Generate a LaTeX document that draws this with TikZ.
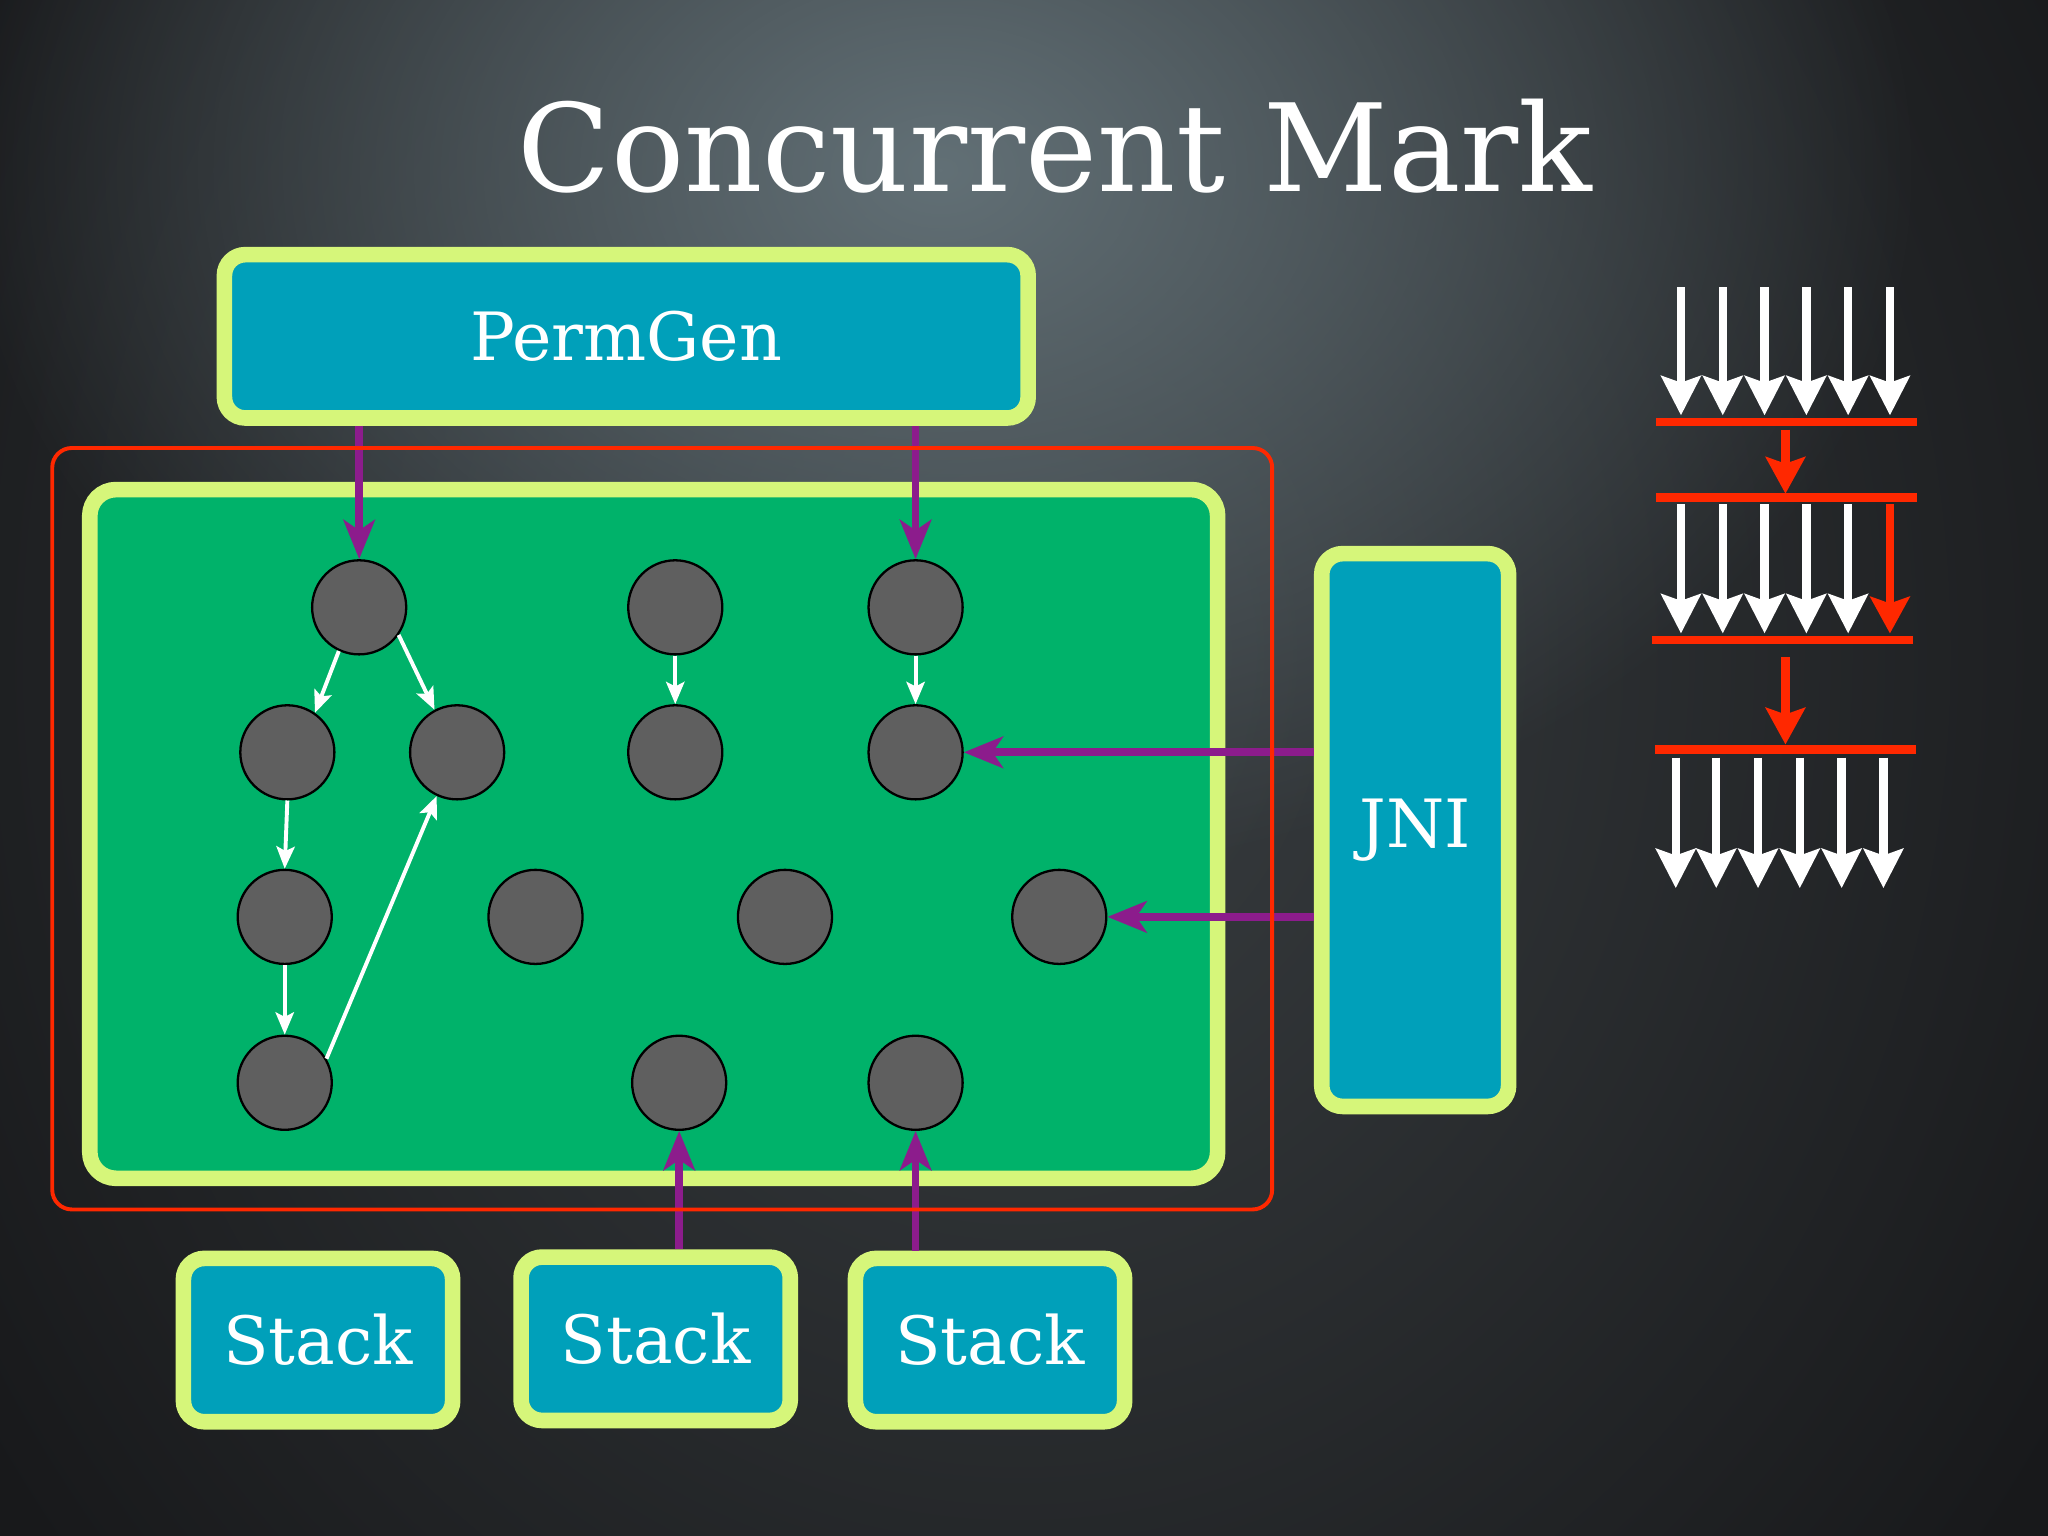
\documentclass[tikz,border=0pt]{standalone}
\usepackage{fontspec}
\setmainfont{DejaVu Serif}
\usetikzlibrary{arrows.meta}
\usetikzlibrary{fadings}
\definecolor{bgdark}{RGB}{24,25,27}
\definecolor{bgmid}{RGB}{58,63,66}
\definecolor{bglight}{RGB}{98,112,118}
\definecolor{limerim}{RGB}{214,246,122}
\definecolor{slotteal}{RGB}{0,160,186}
\definecolor{heapgreen}{RGB}{0,178,106}
\definecolor{objgray}{RGB}{95,95,95}
\definecolor{rootpurple}{RGB}{140,28,140}
\definecolor{markred}{RGB}{255,40,0}
\tikzfading[name=glow, inner color=transparent!0, outer color=transparent!100]

\begin{document}
\begin{tikzpicture}[x=0.01cm, y=-0.01cm,
    slot/.style={draw=limerim, line width=3.4pt, fill=slotteal, rounded corners=0.16cm, text=white, font=\fontsize{14.5}{17}\selectfont, inner sep=0pt},
    obj/.style={circle, draw=black, line width=0.5pt, fill=objgray, minimum size=0.72cm, inner sep=0pt},
    link/.style={white, line width=0.85pt, -{Stealth[length=0.17cm, width=0.14cm, inset=0.035cm]}},
    rootlink/.style={rootpurple, line width=1.7pt, -{Stealth[length=0.3cm, width=0.24cm, inset=0.08cm]}},
    whitedrop/.style={white, line width=1.85pt, -{Stealth[length=0.3cm, width=0.3cm, inset=0.05cm]}},
    reddrop/.style={markred, line width=1.85pt, -{Stealth[length=0.28cm, width=0.3cm, inset=0.05cm]}},
    redbar/.style={markred, line width=1.85pt}]

    \useasboundingbox (0,0) rectangle (1568,1176);
    \begin{scope}
        \clip (0,0) rectangle (1568,1176);
        \fill[bgdark] (0,0) rectangle (1568,1176);
        \shade[inner color=bgmid, outer color=bgdark] (780,500) ellipse [x radius=9.5cm, y radius=11cm];
        \fill[bglight, path fading=glow] (720,130) ellipse [x radius=7.5cm, y radius=5.5cm];
    \end{scope}

    \node[text=white, font=\fontsize{26.5}{30}\selectfont, anchor=base] (title) at (808,147) {Concurrent Mark};

    % heap
    \node[draw=limerim, line width=3.4pt, fill=heapgreen, rounded corners=0.2cm, minimum width=8.63cm, minimum height=5.27cm] (heap) at (500.5,638.5) {};

    \node[obj] (a) at (275,465) {};
    \node[obj] (b) at (517,465) {};
    \node[obj] (c) at (701,465) {};
    \node[obj] (d) at (220,576) {};
    \node[obj] (e) at (350,576) {};
    \node[obj] (f) at (517,576) {};
    \node[obj] (g) at (701,576) {};
    \node[obj] (h) at (218,702) {};
    \node[obj] (i) at (410,702) {};
    \node[obj] (j) at (601,702) {};
    \node[obj] (k) at (811,702) {};
    \node[obj] (l) at (218,829) {};
    \node[obj] (m) at (520,829) {};
    \node[obj] (n) at (701,829) {};

    % roots
    \node[slot, minimum width=6.15cm, minimum height=1.25cm] (permgen) at (479.5,257.5) {PermGen};
    \node[slot, minimum width=1.43cm, minimum height=4.23cm] (jni) at (1083.5,635.5) {JNI};
    \node[slot, minimum width=2.06cm, minimum height=1.25cm] (stack1) at (243.5,1026) {Stack};
    \node[slot, minimum width=2.06cm, minimum height=1.25cm] (stack2) at (502,1025) {Stack};
    \node[slot, minimum width=2.06cm, minimum height=1.25cm] (stack3) at (758,1026) {Stack};

    \draw[link] (a.-115) -- (d.55);
    \draw[link] (a.-35) -- (e.118);
    \draw[link] (b.south) -- (f.north);
    \draw[link] (c.south) -- (g.north);
    \draw[link] (d.south) -- (h.north);
    \draw[link] (h.south) -- (l.north);
    \draw[link] (l.30) -- (e.245);

    \draw[rootlink] (a |- permgen.south) -- (a);
    \draw[rootlink] (c |- permgen.south) -- (c);
    \draw[rootlink] (g -| jni.west) -- (g);
    \draw[rootlink] (k -| jni.west) -- (k);
    \draw[rootlink] (m |- stack2.north) -- (m);
    \draw[rootlink] (n |- stack3.north) -- (n);

    \draw[markred, line width=0.85pt, rounded corners=0.15cm] (40,343) rectangle (974,926);

    % increments
    \foreach \x in {1287,1319,1351,1383,1415,1447}
        \draw[whitedrop] (\x,220) -- (\x,318);
    \draw[redbar] (1268,323) -- (1468,323);
    \draw[reddrop] (1367,329) -- (1367,378);
    \draw[redbar] (1268,381) -- (1468,381);
    \foreach \x in {1287,1319,1351,1383,1415}
        \draw[whitedrop] (\x,386) -- (\x,485);
    \draw[reddrop] (1447,386) -- (1447,485);
    \draw[redbar] (1265,490) -- (1465,490);
    \draw[reddrop] (1367,503) -- (1367,570);
    \draw[redbar] (1267,574) -- (1467,574);
    \foreach \x in {1283,1314,1346,1378,1410,1442}
        \draw[whitedrop] (\x,580) -- (\x,680);

\end{tikzpicture}
\end{document}
